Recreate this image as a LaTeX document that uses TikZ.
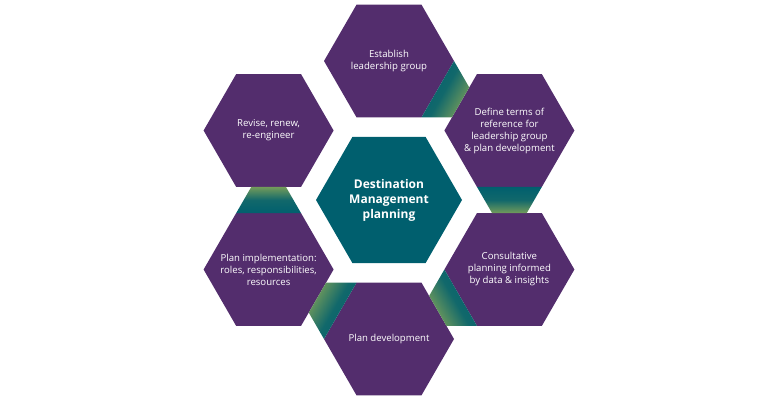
\documentclass[tikz,border=0pt]{standalone}
\usepackage{fontspec}
\setmainfont{Open Sans}
\usetikzlibrary{shapes.geometric,calc}
\definecolor{hexpurple}{HTML}{532D6D}
\definecolor{hexteal}{HTML}{005F6E}
\definecolor{bandgreen}{HTML}{749C5A}

\begin{document}
\begin{tikzpicture}[x=1pt, y=1pt,
  hex/.style={regular polygon, regular polygon sides=6,
    fill=hexpurple, minimum size=130pt, inner sep=0pt, outer sep=0pt},
  midhex/.style={hex, fill=hexteal, minimum size=146pt},
  lbl/.style={text=white, align=center, font=\fontsize{9.6}{12}\selectfont},
  midlbl/.style={lbl, font=\bfseries\fontsize{12}{15}\selectfont},
  band/.style={bottom color=hexteal, top color=bandgreen, middle color=hexteal!85!bandgreen}]
\useasboundingbox (0,0) rectangle (770,400);

% the ring of steps round the centre
\node[midhex] (mid) at (389,200) {};
\node[hex] (top) at (389,339) {};
\node[hex] (define) at (509.4,269.5) {};
\node[hex] (consult) at (509.4,130.5) {};
\node[hex] (plandev) at (389,61) {};
\node[hex] (impl) at (268.6,130.5) {};
\node[hex] (revise) at (268.6,269.5) {};

% bands from one step to the next
\foreach \src/\t [evaluate=\t as \sa using \t-90] in {top/-30, define/-90, consult/210, plandev/150, impl/90}
  \shade[band, shading angle=\sa] ($(\src)+(\t-30:65)$) -- ($(\src)+(\t-30:65)+(\t+30:30.5)$)
    -- ($(\src)+(\t+30:65)+(\t-30:30.5)$) -- ($(\src)+(\t+30:65)$) -- cycle;

\node[midlbl] (midt) at (mid) {Destination\\Management\\planning};
\node[lbl] (topt) at (top) {Establish\\leadership group};
\node[lbl] (definet) at (define) {Define terms of\\reference for\\leadership group\\\& plan development};
\node[lbl] (consultt) at (consult) {Consultative\\planning informed\\by data \& insights};
\node[lbl] (plandevt) at (plandev) {Plan development};
\node[lbl] (implt) at (impl) {Plan implementation:\\roles, responsibilities,\\resources};
\node[lbl] (reviset) at (revise) {Revise, renew,\\re-engineer};
\end{tikzpicture}
\end{document}
